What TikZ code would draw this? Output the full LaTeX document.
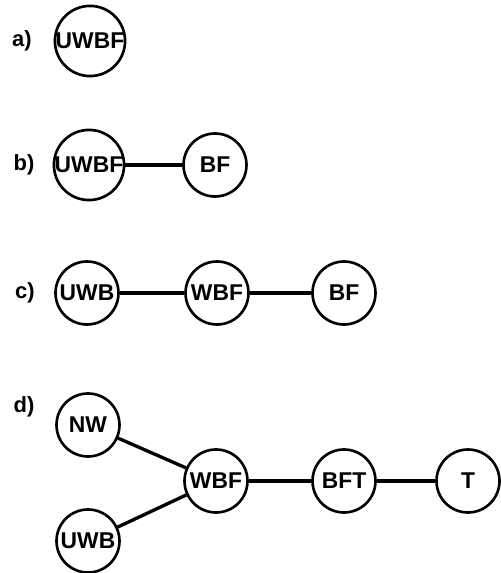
\documentclass[tikz,border=0pt]{standalone}
\usepackage{fontspec}
\setmainfont{Liberation Sans}
\usepackage{tikz}
\usetikzlibrary{positioning}

\begin{document}
\begin{tikzpicture}[
  cell/.style={draw, circle, line width=1.5pt, minimum size=1.26cm, inner sep=0pt,
    font=\fontsize{13}{15}\selectfont\bfseries},
  part/.style={font=\fontsize{12.5}{14}\selectfont\bfseries},
  link/.style={line width=1.9pt}]
  \useasboundingbox (0,0) rectangle (10.02,11.46);

  % a)
  \node[part] (la) at (0.44,10.64) {a)};
  \node[cell] (a1) at (1.8,10.64) {UWBF};

  % b)
  \node[part] (lb) at (0.48,8.16) {b)};
  \node[cell] (b1) at (1.78,8.16) {UWBF};
  \node[cell] (b2) at (4.3,8.16) {BF};
  \draw[link] (b1) -- (b2);

  % c)
  \node[part] (lc) at (0.5,5.6) {c)};
  \node[cell] (c1) at (1.74,5.6) {UWB};
  \node[cell] (c2) at (4.34,5.6) {WBF};
  \node[cell] (c3) at (6.88,5.6) {BF};
  \draw[link] (c1) -- (c2);
  \draw[link] (c2) -- (c3);

  % d)
  \node[part] (ld) at (0.48,3.32) {d)};
  \node[cell] (d1) at (1.76,2.96) {NW};
  \node[cell] (d2) at (1.76,0.64) {UWB};
  \node[cell] (d3) at (4.32,1.84) {WBF};
  \node[cell] (d4) at (6.88,1.84) {BFT};
  \node[cell] (d5) at (9.36,1.84) {T};
  \draw[link] (d1) -- (d3);
  \draw[link] (d2) -- (d3);
  \draw[link] (d3) -- (d4);
  \draw[link] (d4) -- (d5);
\end{tikzpicture}
\end{document}
